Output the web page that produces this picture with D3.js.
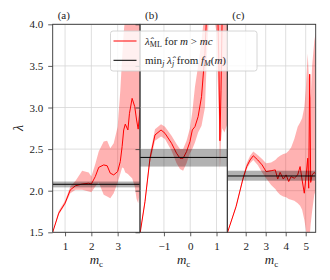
<!DOCTYPE html>
<html>
<head>
<meta charset="utf-8">
<script src="https://cdn.jsdelivr.net/npm/d3@7"></script>
<style>
body { margin: 0; background: #fff; }
svg text { font-family: 'Liberation Serif', serif; fill: #222; }
</style>
</head>
<body>
<svg width="330" height="280"></svg>
<script>
var svg = d3.select("svg");

// y axis
var yTicks = [1.5, 2.0, 2.5, 3.0, 3.5, 4.0];

// (a)
var mA   = [0.53, 0.76, 1.0, 1.2, 1.4, 1.65, 1.9, 2.0, 2.15, 2.28, 2.47, 2.6, 2.72, 2.85, 3.0, 3.1, 3.17, 3.23, 3.29, 3.39, 3.45, 3.55, 3.65, 3.72, 3.78, 3.85];
var lamA = [1.5, 1.73, 1.85, 2.01, 2.06, 2.08, 2.09, 2.08, 2.17, 2.28, 2.31, 2.30, 2.21, 2.19, 2.23, 2.35, 2.53, 2.73, 2.80, 2.73, 2.93, 3.11, 3.01, 2.85, 2.74, 2.97];
var loA  = [1.5, 1.71, 1.83, 1.97, 2.01, 2.01, 1.99, 1.98, 2.05, 2.10, 1.95, 1.93, 1.91, 1.97, 2.10, 2.20, 2.28, 2.27, 2.22, 2.20, 2.18, 2.15, 2.05, 1.90, 1.85, 2.0];
var hiA  = [1.5, 1.76, 1.88, 2.05, 2.12, 2.24, 2.22, 2.17, 2.32, 2.47, 2.59, 2.60, 2.51, 2.57, 2.77, 3.2, 3.6, 3.9, 4.1, 4.2, 4.2, 4.2, 4.2, 4.2, 4.2, 4.2];
var refA = [2.077, 2.04, 2.11];
var ticksA = [1, 2, 3];

// (b)
var mB   = [-1.91, -1.72, -1.53, -1.34, -1.11, -0.96, -0.71, -0.52, -0.39, -0.27, -0.14, -0.01, 0.08, 0.18, 0.3, 0.43, 0.56, 0.62, 0.7, 0.85, 1.0, 1.05, 1.09, 1.13, 1.17, 1.22, 1.3, 1.41];
var lamB = [1.48, 1.87, 2.39, 2.67, 2.73, 2.69, 2.57, 2.45, 2.39, 2.39, 2.47, 2.59, 2.73, 2.77, 2.89, 3.13, 3.65, 4.1, 4.5, 4.6, 4.5, 4.1, 3.53, 2.6, 3.2, 4.2, 4.5, 4.6];
var loB  = [1.48, 1.83, 2.34, 2.60, 2.65, 2.62, 2.48, 2.33, 2.26, 2.24, 2.33, 2.45, 2.50, 2.58, 2.70, 2.78, 3.0, 3.5, 4.05, 4.2, 3.9, 3.3, 2.9, 2.25, 2.6, 2.75, 2.7, 2.8];
var hiB  = [1.5, 1.90, 2.44, 2.74, 2.80, 2.77, 2.66, 2.56, 2.50, 2.50, 2.60, 2.75, 2.95, 3.25, 3.5, 3.8, 4.2, 4.3, 4.5, 4.6, 4.6, 4.5, 4.3, 4.0, 4.2, 4.5, 4.6, 4.6];
var refB = [2.40, 2.29, 2.50];
var ticksB = [-1, 0, 1];

// (c)
var mC   = [1.08, 1.52, 1.85, 2.05, 2.22, 2.38, 2.6, 2.82, 3.02, 3.27, 3.48, 3.6, 3.72, 3.88, 4.02, 4.15, 4.27, 4.43, 4.6, 4.72, 4.82, 4.93, 5.0, 5.1, 5.15, 5.2, 5.25, 5.32, 5.43, 5.5];
var lamC = [1.49, 1.81, 2.13, 2.29, 2.37, 2.42, 2.37, 2.31, 2.23, 2.24, 2.25, 2.14, 2.22, 2.14, 2.19, 2.11, 2.17, 2.15, 2.19, 2.29, 2.13, 1.97, 2.13, 2.39, 2.03, 3.4, 2.1, 2.19, 2.22, 2.2];
var loC  = [1.49, 1.80, 2.11, 2.26, 2.33, 2.37, 2.31, 2.22, 2.15, 2.07, 2.02, 1.98, 1.95, 1.93, 1.92, 1.90, 1.89, 1.88, 1.85, 1.82, 1.77, 1.65, 1.55, 1.4, 1.4, 1.45, 1.6, 1.75, 1.95, 2.0];
var hiC  = [1.5, 1.83, 2.16, 2.33, 2.42, 2.47, 2.43, 2.38, 2.33, 2.34, 2.37, 2.40, 2.42, 2.44, 2.45, 2.48, 2.52, 2.62, 2.77, 2.82, 2.87, 3.0, 3.2, 3.65, 3.4, 3.2, 3.11, 3.5, 3.8, 3.9];
var refC = [2.177, 2.12, 2.24];
var ticksC = [2, 3, 4, 5];

var panels = [
  { tag: "(a)", x0: 52.7, w: 87.3, dom: [0.53, 3.85], ticks: ticksA, m: mA, lam: lamA, lo: loA, hi: hiA, ref: refA },
  { tag: "(b)", x0: 140, w: 87.3, dom: [-1.91, 1.41], ticks: ticksB, m: mB, lam: lamB, lo: loB, hi: hiB, ref: refB },
  { tag: "(c)", x0: 227.3, w: 88.4, dom: [1.08, 5.5], ticks: ticksC, m: mC, lam: lamC, lo: loC, hi: hiC, ref: refC }
];

var plotTop = 24.3, plotBot = 232.3;
var y = d3.scaleLinear().domain([1.5, 4.0]).range([plotBot, plotTop]);
var dark = "#333";

panels.forEach(function(p, i) {
  var x = d3.scaleLinear().domain(p.dom).range([p.x0, p.x0 + p.w]);
  var g = svg.append("g");
  var cid = "clip" + i;
  svg.append("clipPath").attr("id", cid)
    .append("rect").attr("x", p.x0).attr("y", plotTop).attr("width", p.w).attr("height", plotBot - plotTop);

  // grid
  g.selectAll(".gx").data(p.ticks).enter().append("line")
    .attr("x1", d => x(d)).attr("x2", d => x(d)).attr("y1", plotTop).attr("y2", plotBot)
    .attr("stroke", "#d6d6d6").attr("stroke-width", 0.8);
  g.selectAll(".gy").data(yTicks).enter().append("line")
    .attr("x1", p.x0).attr("x2", p.x0 + p.w).attr("y1", d => y(d)).attr("y2", d => y(d))
    .attr("stroke", "#d6d6d6").attr("stroke-width", 0.8);

  var pts = p.m.map((m, k) => ({ m: m, lam: p.lam[k], lo: p.lo[k], hi: p.hi[k] }));
  var data = g.append("g").attr("clip-path", "url(#" + cid + ")");
  data.append("path").datum(pts)
    .attr("d", d3.area().x(d => x(d.m)).y0(d => y(d.lo)).y1(d => y(d.hi)))
    .attr("fill", "red").attr("fill-opacity", 0.3);
  data.append("path").datum(pts)
    .attr("d", d3.line().x(d => x(d.m)).y(d => y(d.lam)))
    .attr("fill", "none").attr("stroke", "red").attr("stroke-width", 1);
  data.append("rect")
    .attr("x", p.x0).attr("width", p.w)
    .attr("y", y(p.ref[2])).attr("height", y(p.ref[1]) - y(p.ref[2]))
    .attr("fill", "black").attr("fill-opacity", 0.3);
  data.append("line")
    .attr("x1", p.x0).attr("x2", p.x0 + p.w).attr("y1", y(p.ref[0])).attr("y2", y(p.ref[0]))
    .attr("stroke", "black").attr("stroke-width", 1);

  // x axis
  var ax = g.append("g").attr("transform", "translate(0," + plotBot + ")")
    .call(d3.axisBottom(x).tickValues(p.ticks).tickSize(4).tickFormat(d => d < 0 ? "\u2212" + (-d) : d));
  ax.attr("font-family", null);
  ax.select(".domain").remove();
  ax.selectAll("line").attr("stroke", dark).attr("stroke-width", 0.8);
  ax.selectAll("text").attr("font-size", 11).attr("dy", null).attr("y", 17.5).attr("fill", "#222");

  // y ticks
  if (i < 2) {
    var ay = g.append("g").attr("transform", "translate(" + p.x0 + ",0)")
      .call(d3.axisLeft(y).tickValues(yTicks).tickSize(4.5).tickFormat(i == 0 ? d3.format(".1f") : ""));
    ay.attr("font-family", null);
    ay.select(".domain").remove();
    ay.selectAll("line").attr("stroke", dark).attr("stroke-width", 0.8);
    ay.selectAll("text").attr("font-size", 11).attr("x", -9.5).attr("dy", "0.33em").attr("fill", "#222");
  }

  // spines
  g.append("rect").attr("x", p.x0).attr("y", plotTop).attr("width", p.w).attr("height", plotBot - plotTop)
    .attr("fill", "none").attr("stroke", dark).attr("stroke-width", 0.9);

  // panel tag
  g.append("text").attr("x", p.x0 + 5).attr("y", 19).attr("font-size", 11).text(p.tag);

  // x label
  var xl = g.append("text").attr("x", p.x0 + p.w / 2).attr("y", 264).attr("text-anchor", "middle").attr("font-size", 13);
  xl.append("tspan").attr("font-style", "italic").text("m");
  xl.append("tspan").attr("font-size", 9).attr("dy", 2.5).text("c");
});

// y label
svg.append("text").attr("transform", "translate(23,128) rotate(-90)")
  .attr("text-anchor", "middle").attr("font-size", 14).attr("font-style", "italic").text("\u03bb");

// legend
function rich(t, parts) {
  var shift = 0;
  parts.forEach(function(q) {
    var s = t.append("tspan").text(q.t);
    var want = q.sub ? 2.5 : 0;
    if (want != shift) { s.attr("dy", want - shift); shift = want; }
    if (q.sub) s.attr("font-size", 8);
    if (q.it) s.attr("font-style", "italic");
  });
}

var lg = svg.append("g");
lg.append("rect").attr("x", 110.5).attr("y", 31).attr("width", 146.5).attr("height", 40).attr("rx", 2.5)
  .attr("fill", "white").attr("fill-opacity", 0.8).attr("stroke", "#cccccc").attr("stroke-width", 0.8);
lg.append("line").attr("x1", 113.5).attr("x2", 136.5).attr("y1", 41).attr("y2", 41).attr("stroke", "red").attr("stroke-width", 1);
lg.append("line").attr("x1", 113.5).attr("x2", 136.5).attr("y1", 60.3).attr("y2", 60.3).attr("stroke", "black").attr("stroke-width", 1);
var t1 = lg.append("text").attr("x", 145).attr("y", 44.5).attr("font-size", 11);
rich(t1, [{ t: "\u03bb\u0302", it: true }, { t: "ML", sub: true }, { t: " for " }, { t: "m", it: true }, { t: " > " }, { t: "mc", it: true }]);
var t2 = lg.append("text").attr("x", 145).attr("y", 63.5).attr("font-size", 11);
rich(t2, [{ t: "min" }, { t: "j", sub: true, it: true }, { t: " \u03bb\u0302", it: true }, { t: "j", sub: true, it: true }, { t: " from " }, { t: "f", it: true }, { t: "M", sub: true, it: true }, { t: "(" }, { t: "m", it: true }, { t: ")" }]);
</script>
</body>
</html>
